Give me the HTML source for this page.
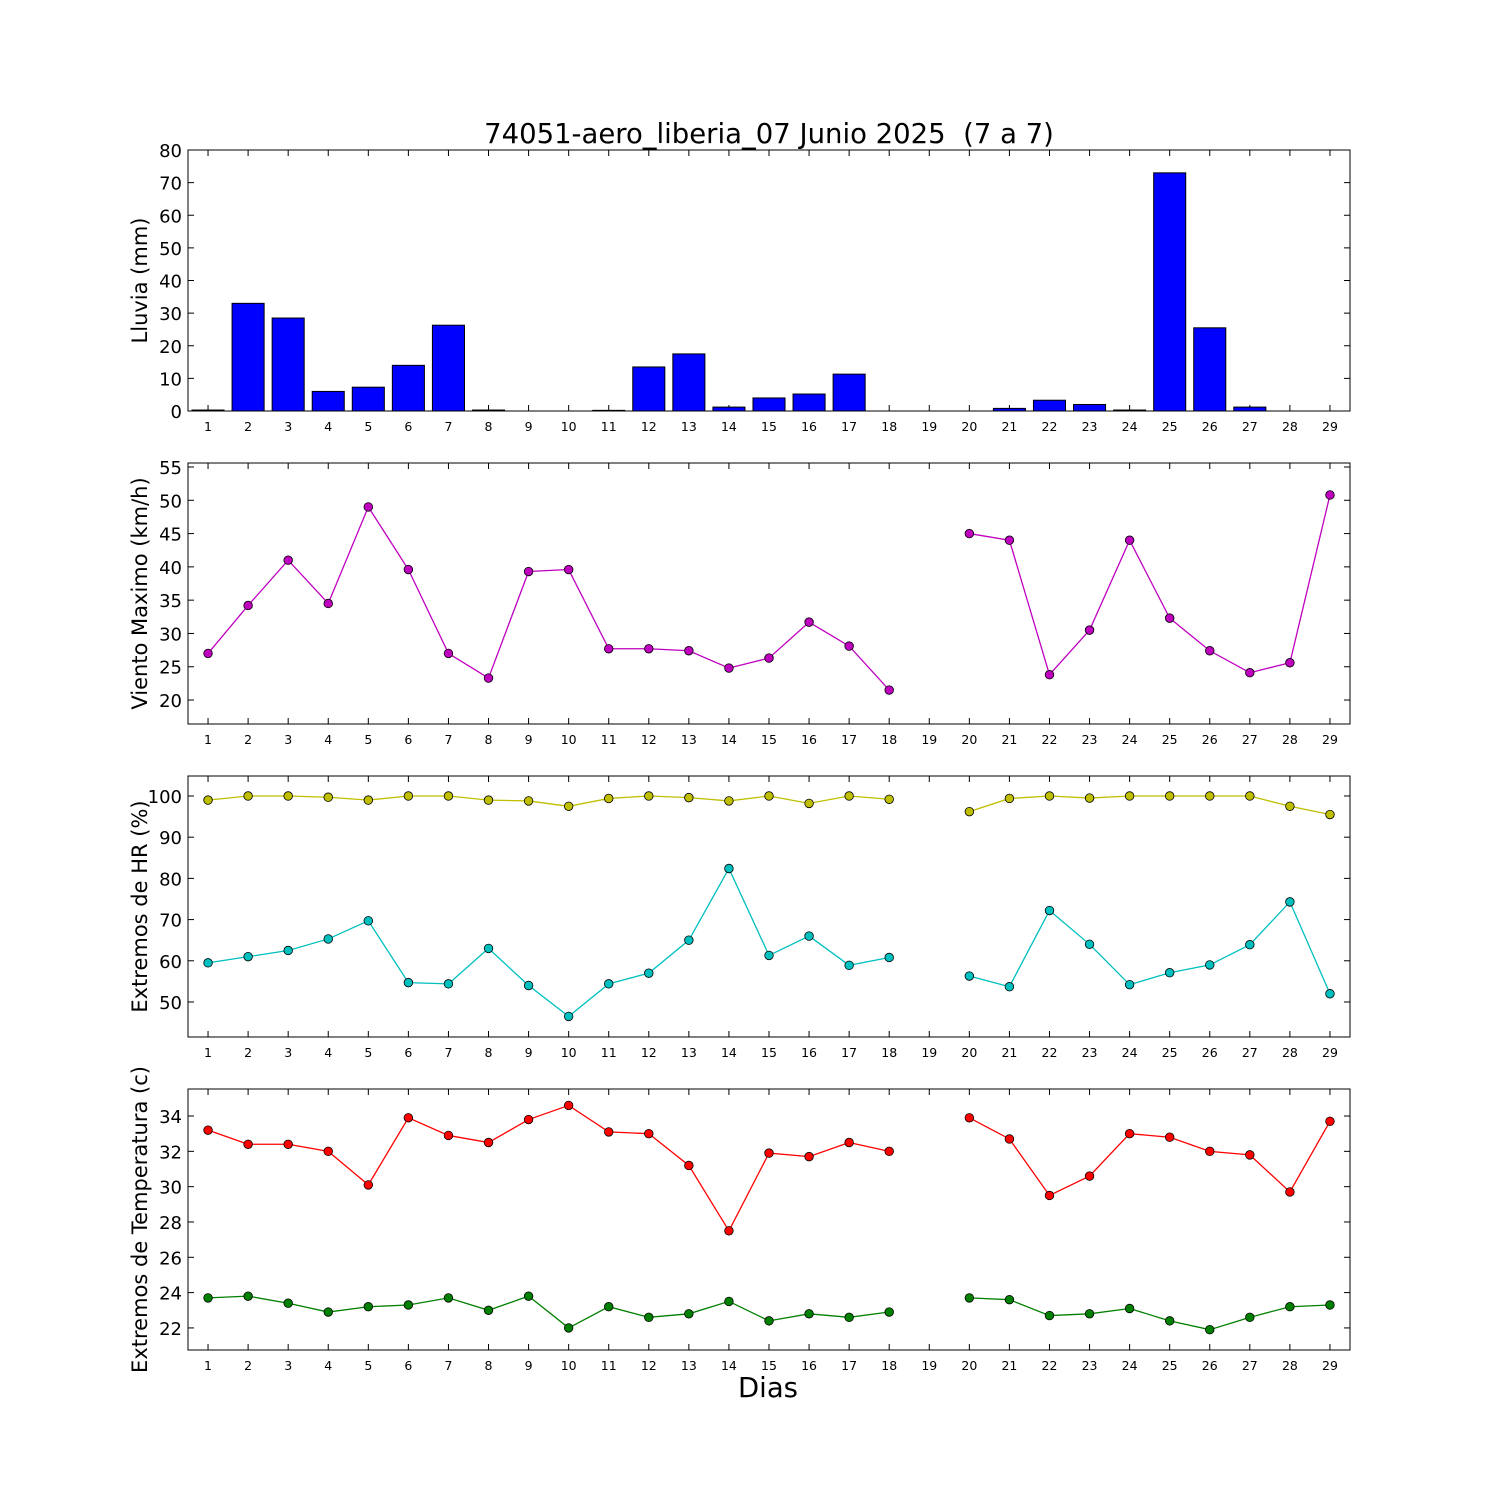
<!DOCTYPE html>
<html><head><meta charset="utf-8"><style>body{margin:0;background:#fff}svg{display:block}text{font-family:"DejaVu Sans","Liberation Sans",sans-serif;white-space:pre}</style></head>
<body>
<svg id="chart" width="1500" height="1500" xmlns="http://www.w3.org/2000/svg">
<rect width="1500" height="1500" fill="#fff"/>
<text x="769" y="143" font-size="27.5" text-anchor="middle" xml:space="preserve">74051-aero_liberia_07 Junio 2025  (7 a 7)</text>
<text x="768" y="1397" font-size="27.5" text-anchor="middle">Dias</text>
</svg>
<script>
const days=[1,2,3,4,5,6,7,8,9,10,11,12,13,14,15,16,17,18,19,20,21,22,23,24,25,26,27,28,29];
const rain=[0.3,33,28.5,6,7.3,14,26.3,0.3,0,0,0.2,13.5,17.5,1.2,4,5.2,11.3,0,0,0,0.8,3.3,2,0.3,73,25.5,1.2,0,0];
const wind=[27,34.2,41,34.5,49,39.6,27,23.3,39.3,39.6,27.7,27.7,27.4,24.8,26.3,31.7,28.1,21.5,null,45,44,23.8,30.5,44,32.3,27.4,24.1,25.6,50.8];
const hrMax=[99,100,100,99.7,99,100,100,99,98.8,97.5,99.4,100,99.6,98.8,100,98.2,100,99.2,null,96.2,99.4,100,99.5,100,100,100,100,97.5,95.5];
const hrMin=[59.5,61,62.5,65.3,69.7,54.7,54.4,63,54,46.5,54.4,57,65,82.4,61.3,66,58.9,60.8,null,56.3,53.7,72.2,64,54.2,57.1,59,63.9,74.3,52];
const tMax=[33.2,32.4,32.4,32,30.1,33.9,32.9,32.5,33.8,34.6,33.1,33,31.2,27.5,31.9,31.7,32.5,32,null,33.9,32.7,29.5,30.6,33,32.8,32,31.8,29.7,33.7];
const tMin=[23.7,23.8,23.4,22.9,23.2,23.3,23.7,23,23.8,22,23.2,22.6,22.8,23.5,22.4,22.8,22.6,22.9,null,23.7,23.6,22.7,22.8,23.1,22.4,21.9,22.6,23.2,23.3];
const rainTicks=[0,10,20,30,40,50,60,70,80];
const windTicks=[20,25,30,35,40,45,50,55];
const hrTicks=[50,60,70,80,90,100];
const tTicks=[22,24,26,28,30,32,34];
const NS="http://www.w3.org/2000/svg";
const svg=document.getElementById('chart');
const L=188,R=1350;
const xs=d=>L+(d-0.5)/29*(R-L);
function mk(t,a){const e=document.createElementNS(NS,t);for(const k in a)e.setAttribute(k,a[k]);svg.appendChild(e);return e;}
function panel(name,top,bot,ymin,ymax,ticks,label){
  const ys=v=>bot-(v-ymin)/(ymax-ymin)*(bot-top);
  for(const t of ticks){const y=ys(t);
    const a=mk('line',{x1:L,x2:L+6,y1:y,y2:y,stroke:'#000'});
    
    mk('line',{x1:R-6,x2:R,y1:y,y2:y,stroke:'#000'});
    const tx=mk('text',{x:L-6,y:y+7,'font-size':18,'text-anchor':'end'});tx.textContent=t;
    }
  for(const d of days){const x=xs(d);
    mk('line',{x1:x,x2:x,y1:bot,y2:bot-6,stroke:'#000'});
    mk('line',{x1:x,x2:x,y1:top,y2:top+6,stroke:'#000'});
    const tx=mk('text',{x:x,y:bot+20,'font-size':12.5,'text-anchor':'middle'});tx.textContent=d;
    }
  const yl=mk('text',{x:0,y:0,'font-size':21,'text-anchor':'middle',transform:`translate(147,${(top+bot)/2}) rotate(-90)`});
  yl.textContent=label;
  return ys;
}
function frame(name,top,bot){const f=mk('rect',{x:L,y:top,width:R-L,height:bot-top,fill:'none',stroke:'#000','stroke-width':1});
  }
function series(name,ys,vals,col){
  let seg=[];const segs=[];
  vals.forEach((v,i)=>{if(v==null){if(seg.length)segs.push(seg);seg=[];}else seg.push([xs(days[i]),ys(v)]);});
  if(seg.length)segs.push(seg);
  for(const s of segs){const p=mk('polyline',{points:s.map(q=>q.join(',')).join(' '),fill:'none',stroke:col,'stroke-width':1.3});
    }
  vals.forEach((v,i)=>{if(v==null)return;const c=mk('circle',{cx:xs(days[i]),cy:ys(v),r:4.3,fill:col,stroke:'#000','stroke-width':0.8});
    });
}
let ys=panel('rain',150,411,0,80,rainTicks,'Lluvia (mm)');
rain.forEach((v,i)=>{const w=0.8*(R-L)/29;const x=xs(days[i])-w/2;const y=ys(v);
  const b=mk('rect',{x:x,y:y,width:w,height:411-y,fill:'#0000ff',stroke:'#000','stroke-width':1});
  });
frame('rain',150,411);
ys=panel('wind',463,724,16.4,55.6,windTicks,'Viento Maximo (km/h)');
series('wind',ys,wind,'#bf00bf');frame('wind',463,724);
ys=panel('hr',776,1037,41.5,104.85,hrTicks,'Extremos de HR (%)');
series('hr-max',ys,hrMax,'#bfbf00');series('hr-min',ys,hrMin,'#00bfbf');frame('hr',776,1037);
ys=panel('temp',1089,1350,20.75,35.53,tTicks,'Extremos de Temperatura (c)');
series('temp-max',ys,tMax,'#ff0000');series('temp-min',ys,tMin,'#008000');frame('temp',1089,1350);
</script>
</body></html>
